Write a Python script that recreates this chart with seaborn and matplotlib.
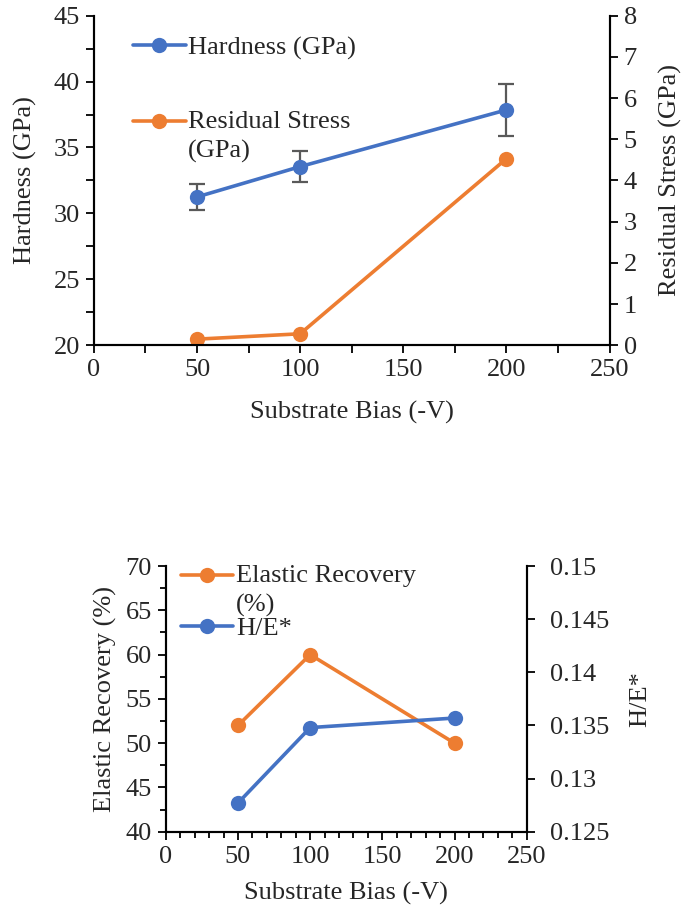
import numpy as np
import pandas as pd
import matplotlib
matplotlib.use("Agg")
import matplotlib.pyplot as plt
import seaborn as sns
from matplotlib.ticker import MultipleLocator
from matplotlib.legend_handler import HandlerLine2D

# data
bias = [50, 100, 200]
hardness = [31.25, 33.55, 37.85]
hardness_err = [1.0, 1.2, 2.0]
residual_stress = [0.15, 0.28, 4.53]
elastic_recovery = [52, 60, 50]
h_over_e = [0.1277, 0.1348, 0.1357]

blue = "#4472C4"
orange = "#ED7D31"
grey = "#595959"

sns.set_style("ticks")
plt.rcParams['font.family'] = ['Liberation Serif', 'DejaVu Serif']
plt.rcParams['font.size'] = 19

df = pd.DataFrame({"bias": bias, "hardness": hardness, "err": hardness_err,
                   "stress": residual_stress, "er": elastic_recovery, "he": h_over_e})

fig = plt.figure(figsize=(6.85, 9.16), dpi=100)


def style_axis(ax, pad=4, minor_len=6):
    for s in ax.spines.values():
        s.set_linewidth(1.5)
        s.set_color("black")
    ax.tick_params(axis="both", which="both", direction="out", length=6,
                   width=1.3, color="black", labelsize=19, pad=pad)
    ax.tick_params(axis="both", which="minor", length=minor_len)


class FirstLineHandler(HandlerLine2D):
    # put the legend handle next to the first line of a two-line label
    def create_artists(self, legend, orig_handle, xdescent, ydescent,
                       width, height, fontsize, trans):
        return super().create_artists(legend, orig_handle, xdescent,
                                      ydescent - 21, width, height, fontsize, trans)


line_kw = dict(marker="o", markersize=11, linewidth=2.6, markeredgewidth=0)
leg_kw = dict(loc="upper left", frameon=False, fontsize=19, handlelength=2.0,
              handletextpad=0.1, borderaxespad=0)

# ---- top chart: hardness + residual stress
ax1 = fig.add_axes([0.137, 0.623, 0.753, 0.360])
ax2 = ax1.twinx()
ax1.errorbar(df["bias"], df["hardness"], yerr=df["err"], fmt="none",
             ecolor=grey, elinewidth=1.6, capsize=6, capthick=1.6, zorder=1)
sns.lineplot(data=df, x="bias", y="hardness", ax=ax1, color=blue,
             label="Hardness (GPa)", legend=False, zorder=3, **line_kw)
sns.lineplot(data=df, x="bias", y="stress", ax=ax2, color=orange,
             label="Residual Stress\n(GPa)", legend=False, **line_kw)

ax1.set_xlim(0, 250)
ax1.set_ylim(20, 45)
ax2.set_ylim(0, 8)
ax1.xaxis.set_major_locator(MultipleLocator(50))
ax1.xaxis.set_minor_locator(MultipleLocator(25))
ax1.yaxis.set_major_locator(MultipleLocator(5))
ax1.yaxis.set_minor_locator(MultipleLocator(2.5))
ax2.yaxis.set_major_locator(MultipleLocator(1))
ax1.set_xlabel("Substrate Bias (-V)", fontsize=19, labelpad=14)
ax1.set_ylabel("Hardness (GPa)", fontsize=19, labelpad=12)
ax2.set_ylabel("Residual Stress (GPa)", fontsize=19, labelpad=16)
for a in (ax1, ax2):
    style_axis(a)
    a.spines["top"].set_visible(False)

h1, l1 = ax1.get_legend_handles_labels()
h2, l2 = ax2.get_legend_handles_labels()
leg = ax2.legend(h1 + h2, l1 + l2, bbox_to_anchor=(0.055, 0.97), labelspacing=1.92,
                 handler_map={h2[0]: FirstLineHandler()}, **leg_kw)
for t in leg.get_texts():
    t.set_linespacing(1.4)

# ---- bottom chart: elastic recovery + H/E*
ax3 = fig.add_axes([0.242, 0.092, 0.527, 0.290])
ax4 = ax3.twinx()
sns.lineplot(data=df, x="bias", y="er", ax=ax3, color=orange,
             label="Elastic Recovery\n(%)", legend=False, **line_kw)
sns.lineplot(data=df, x="bias", y="he", ax=ax4, color=blue,
             label="H/E*", legend=False, **line_kw)

ax3.set_xlim(0, 250)
ax3.set_ylim(40, 70)
ax4.set_ylim(0.125, 0.15)
ax3.xaxis.set_major_locator(MultipleLocator(50))
ax3.xaxis.set_minor_locator(MultipleLocator(10))
ax3.yaxis.set_major_locator(MultipleLocator(5))
ax3.yaxis.set_minor_locator(MultipleLocator(2.5))
ax4.yaxis.set_major_locator(MultipleLocator(0.005))
ax4.yaxis.set_major_formatter(lambda v, p: f"{v:.3f}".rstrip("0"))
ax3.set_xlabel("Substrate Bias (-V)", fontsize=19, labelpad=10)
ax3.set_ylabel("Elastic Recovery (%)", fontsize=19, labelpad=6)
ax4.set_ylabel("H/E*", fontsize=19, labelpad=14)
style_axis(ax3, minor_len=4)
style_axis(ax4, pad=11)
for a in (ax3, ax4):
    a.spines["top"].set_visible(False)

h3, l3 = ax3.get_legend_handles_labels()
h4, l4 = ax4.get_legend_handles_labels()
leg2 = ax4.legend(h3 + h4, l3 + l4, bbox_to_anchor=(0.012, 1.045), labelspacing=0.0,
                  handler_map={h3[0]: FirstLineHandler()}, **leg_kw)
for t in leg2.get_texts():
    t.set_linespacing(1.4)

fig.savefig("out.png", dpi=100, facecolor="white")
